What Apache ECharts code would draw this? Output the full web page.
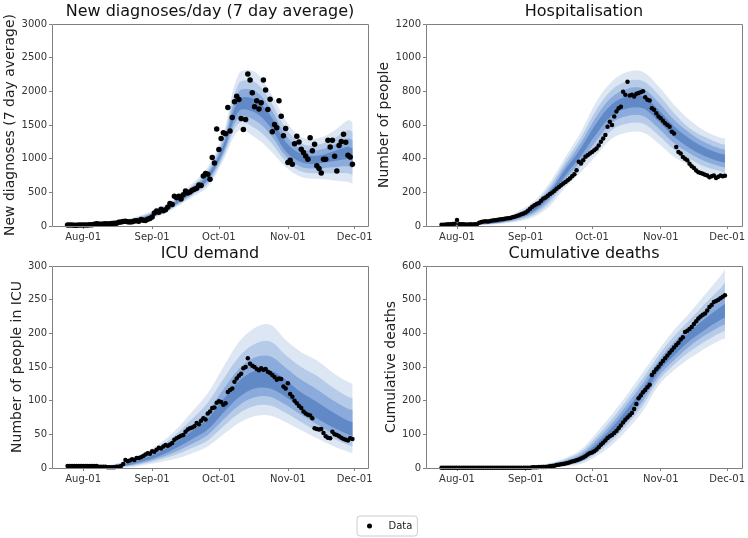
<!DOCTYPE html>
<html><head><meta charset="utf-8">
<script src="https://cdn.jsdelivr.net/npm/echarts@6/dist/echarts.min.js"></script>
<style>html,body{margin:0;padding:0;background:#fff}#c{width:748px;height:538px}</style>
</head><body><div id="c"></div>
<script>
// ---------- data ----------
const startDate = '2020-07-25';
const xMinDate = '2020-07-18';
const xMaxDate = '2020-12-07';
const xTickDates = ['2020-08-01', '2020-09-01', '2020-10-01', '2020-11-01', '2020-12-01'];
const xTickLabels = ['Aug-01', 'Sep-01', 'Oct-01', 'Nov-01', 'Dec-01'];
const panelTitles = ['New diagnoses/day (7 day average)', 'Hospitalisation', 'ICU demand', 'Cumulative deaths'];
const yAxisNames = ['New diagnoses (7 day average)', 'Number of people', 'Number of people in ICU', 'Cumulative deaths'];
const yMaxes = [3000, 1200, 300, 600];
const ySteps = [500, 200, 50, 100];

// daily observed data from 25 Jul to 30 Nov
const diagnoses = [15, 14, 14, 12, 12, 13, 14,
  14, 15, 16, 18, 20, 25, 35, 28, 26, 30,
  32, 30, 35, 38, 40, 42, 55, 60, 65, 70,
  62, 59, 62, 75, 78, 70, 95, 85, 80, 100, 110,
  134, 193, 223, 205, 250, 225, 240, 280, 333, 320,
  442, 420, 440, 400, 465, 520, 490, 505, 530, 545,
  560, 610, 600, 744, 778, 768, 694, 1017, 937, 1442,
  1136, 1300, 1385, 1370, 1760, 1410, 1612, 1844, 1928, 1880,
  1597, 1433, 1582, 2256, 2167, 1979, 1770, 1860, 1736, 1830,
  2167, 2018, 1731, 1884, 1398, 1508, 1458, 1860, 1631, 1339, 1448,
  942, 977, 917, 1220, 1334, 1249, 1140, 1091, 1041, 992,
  1309, 1116, 1215, 893, 853, 788, 992, 992, 1274, 1175,
  1274, 1036, 818, 1195, 1254, 1364, 1245, 1051, 1026, 917];
const hospital = [8, 8, 9, 10, 10, 12, 14,
  36, 12, 10, 10, 9, 9, 10, 9, 10, 11,
  20, 24, 26, 28, 27, 30, 32, 34, 36, 38,
  40, 42, 44, 46, 48, 52, 55, 60, 64, 70, 75,
  80, 90, 103, 115, 123, 130, 137, 150, 163, 170,
  179, 190, 199, 210, 222, 232, 242, 252, 262, 272,
  282, 295, 308, 331, 381, 371, 390, 411, 420, 431,
  440, 450, 460, 478, 500, 520, 540, 590, 620, 600,
  650, 680, 700, 708, 797, 780, 857, 775, 780, 770,
  785, 790, 795, 800, 765, 750, 745, 700, 690, 670, 650,
  640, 625, 610, 600, 590, 560, 550, 470, 440, 430,
  410, 400, 390, 370, 355, 345, 330, 320, 315, 310,
  305, 300, 290, 295, 300, 285, 292, 300, 295, 298];
const icu = [3, 3, 3, 3, 3, 3, 3,
  3, 3, 3, 3, 3, 3, 3, 2, 2, 2,
  2, 1, 1, 1, 1, 2, 2, 3, 6, 12,
  10, 11, 13, 12, 15, 15, 16, 18, 20, 22, 21,
  25, 24, 27, 30, 29, 32, 34, 33, 35, 37,
  42, 44, 46, 48, 49, 54, 57, 59, 60, 62,
  67, 65, 70, 74, 72, 81, 84, 89, 90, 97,
  99, 98, 94, 96, 113, 116, 118, 128, 133, 137,
  140, 148, 150, 163, 155, 152, 150, 147, 145, 148,
  146, 147, 143, 141, 138, 135, 131, 133, 132, 121, 118,
  126, 110, 106, 100, 96, 92, 89, 84, 81, 79,
  78, 74, 59, 58, 57, 58, 52, 47, 45, 44,
  54, 50, 49, 47, 45, 43, 42, 41, 44, 43];
const deaths = [1, 1, 1, 1, 1, 1, 1,
  1, 1, 1, 1, 1, 1, 1, 1, 1, 1,
  1, 1, 1, 1, 1, 1, 1, 1, 1, 1,
  1, 1, 1, 1, 1, 1, 1, 1, 1, 1, 1,
  1, 1, 1, 2, 2, 2, 3, 3, 3, 3,
  4, 5, 6, 7, 9, 10, 11, 12, 13, 15,
  17, 19, 21, 23, 25, 28, 31, 35, 40, 44,
  46, 50, 55, 62, 69, 75, 82, 89, 94, 98,
  104, 110, 118, 126, 135, 143, 150, 157, 163, 175,
  190, 207, 215, 225, 232, 240, 247, 276, 285, 293, 301,
  310, 318, 326, 334, 342, 350, 358, 365, 372, 382,
  388, 404, 408, 413, 419, 428, 436, 444, 450, 455,
  459, 468, 478, 484, 493, 496, 500, 504, 509, 513];

// model fan bands (outer -> inner), weekly
const bandDates = ['2020-07-25', '2020-08-01', '2020-08-08', '2020-08-15', '2020-08-22', '2020-08-29',
  '2020-09-05', '2020-09-12', '2020-09-19', '2020-09-26', '2020-10-03', '2020-10-10', '2020-10-17',
  '2020-10-24', '2020-10-31', '2020-11-07', '2020-11-14', '2020-11-21', '2020-11-28', '2020-11-30'];

const diagLo1 = [5, 8, 15, 25, 50, 85, 159, 282, 431, 580, 977, 1423, 1320, 1126, 877, 729, 700, 680, 654, 630];
const diagHi1 = [25, 30, 40, 60, 110, 184, 282, 431, 630, 877, 1377, 2266, 2290, 1993, 1572, 1323, 1298, 1398, 1572, 1550];
const diagLo2 = [8, 11, 18, 30, 58, 97, 176, 302, 458, 622, 1029, 1530, 1458, 1256, 965, 810, 784, 785, 782, 756];
const diagHi2 = [22, 26, 36, 54, 100, 166, 262, 407, 597, 829, 1309, 2120, 2137, 1863, 1451, 1226, 1202, 1287, 1424, 1400];
const diagLo3 = [10, 13, 21, 33, 64, 107, 190, 319, 480, 657, 1072, 1619, 1573, 1365, 1038, 878, 854, 872, 888, 861];
const diagHi3 = [19, 23, 32, 49, 91, 152, 245, 386, 569, 790, 1252, 1999, 2010, 1755, 1351, 1145, 1123, 1195, 1301, 1275];
const diagLo4 = [12, 15, 24, 37, 70, 117, 204, 336, 502, 692, 1115, 1709, 1688, 1473, 1111, 946, 924, 960, 995, 966];
const diagHi4 = [16, 20, 29, 44, 82, 137, 228, 366, 542, 751, 1195, 1877, 1882, 1647, 1250, 1065, 1044, 1104, 1178, 1150];

const hospLo1 = [0, 2, 4, 8, 15, 28, 55, 120, 232, 320, 420, 520, 555, 555, 490, 410, 360, 315, 290, 282];
const hospHi1 = [10, 12, 16, 26, 45, 90, 150, 260, 411, 560, 740, 860, 915, 915, 830, 720, 630, 565, 525, 520];
const hospLo2 = [2, 4, 6, 10, 19, 36, 69, 141, 258, 356, 468, 571, 609, 609, 539, 455, 399, 352, 325, 317];
const hospHi2 = [9, 11, 14, 23, 40, 80, 135, 239, 384, 524, 692, 809, 861, 861, 780, 671, 581, 528, 489, 484];
const hospLo3 = [3, 5, 7, 12, 22, 43, 80, 159, 280, 386, 508, 614, 654, 654, 581, 493, 432, 384, 353, 347];
const hospHi3 = [7, 9, 13, 20, 36, 71, 123, 221, 361, 494, 652, 766, 816, 816, 734, 631, 554, 496, 459, 454];
const hospLo4 = [4, 6, 9, 14, 25, 50, 91, 176, 302, 416, 548, 656, 699, 699, 622, 530, 464, 415, 382, 376];
const hospHi4 = [6, 8, 11, 18, 31, 62, 110, 204, 338, 464, 612, 724, 771, 771, 690, 592, 518, 465, 429, 424];

const icuLo1 = [0, 0, 0, 0, 1, 5, 9, 14, 22, 32, 50, 67, 77, 78, 68, 56, 44, 33, 24, 22];
const icuHi1 = [1, 2, 3, 6, 13, 24, 38, 58, 84, 111, 150, 187, 208, 213, 190, 172, 160, 142, 128, 125];
const icuLo2 = [0, 0, 0, 1, 3, 7, 13, 20, 30, 41, 62, 81, 92, 93, 82, 68, 55, 44, 34, 32];
const icuHi2 = [1, 1, 2, 5, 11, 21, 33, 51, 73, 97, 132, 165, 184, 188, 168, 150, 137, 120, 106, 104];
const icuLo3 = [0, 0, 1, 1, 4, 9, 16, 25, 36, 49, 72, 93, 105, 106, 94, 79, 65, 52, 42, 40];
const icuHi3 = [0, 1, 2, 4, 9, 18, 29, 45, 64, 84, 117, 147, 164, 166, 149, 131, 117, 101, 88, 86];
const icuLo4 = [0, 0, 1, 2, 5, 11, 19, 30, 43, 57, 82, 105, 118, 118, 106, 89, 74, 61, 50, 48];
const icuHi4 = [0, 0, 1, 3, 7, 15, 25, 39, 55, 73, 102, 129, 144, 145, 131, 112, 98, 83, 70, 68];

const deathLo1 = [0, 0, 0, 0, 0, 0, 1, 2, 5, 12, 35, 68, 115, 170, 245, 290, 325, 355, 380, 385];
const deathHi1 = [0, 0, 0, 1, 1, 3, 7, 15, 30, 55, 105, 160, 220, 285, 350, 410, 460, 515, 570, 590];
const deathLo2 = [0, 0, 0, 0, 0, 0, 2, 3, 8, 17, 44, 81, 130, 187, 260, 307, 345, 376, 402, 407];
const deathHi2 = [0, 0, 0, 1, 1, 2, 6, 13, 26, 48, 93, 145, 204, 267, 334, 391, 439, 488, 534, 551];
const deathLo3 = [0, 0, 0, 0, 0, 1, 2, 5, 11, 22, 52, 91, 142, 200, 272, 320, 361, 394, 421, 427];
const deathHi3 = [0, 0, 0, 0, 1, 2, 5, 11, 22, 41, 83, 132, 190, 252, 319, 374, 422, 465, 507, 520];
const deathLo4 = [0, 0, 0, 0, 1, 1, 3, 6, 13, 26, 59, 102, 155, 214, 285, 334, 377, 411, 440, 447];
const deathHi4 = [0, 0, 0, 0, 1, 1, 4, 9, 18, 35, 73, 120, 176, 237, 306, 358, 404, 443, 478, 488];

// ---------- build ----------
const FONT = 'DejaVu Sans';
const DAY = 86400000;
function ts(s) { const p = s.split('-').map(Number); return Date.UTC(p[0], p[1] - 1, p[2]); }
const t0 = ts(startDate);
const dailyX = diagnoses.map((_, i) => t0 + i * DAY);
const bandX = bandDates.map(ts);
const tickVals = xTickDates.map(ts);

const observed = [diagnoses, hospital, icu, deaths];
const bands = [
  [[diagLo1, diagHi1], [diagLo2, diagHi2], [diagLo3, diagHi3], [diagLo4, diagHi4]],
  [[hospLo1, hospHi1], [hospLo2, hospHi2], [hospLo3, hospHi3], [hospLo4, hospHi4]],
  [[icuLo1, icuHi1], [icuLo2, icuHi2], [icuLo3, icuHi3], [icuLo4, icuHi4]],
  [[deathLo1, deathHi1], [deathLo2, deathHi2], [deathLo3, deathHi3], [deathLo4, deathHi4]]
];
const bandColors = ['#dde7f4', '#b6cbe8', '#8aabdb', '#6089c6'];

const gridLefts = [52, 426, 52, 426];
const gridTops = [24, 24, 266, 266];
const GW = 316, GH = 202;
const nameGaps = [32, 30, 28, 28];
const dotSizes = [5.5, 4.5, 4.5, 4.5];
const AXC = '#7f7f7f';

function bandSeries(p, lo, hi, color, z) {
  return {
    type: 'custom', xAxisIndex: p, yAxisIndex: p, silent: true, z: z, clip: true,
    data: bandX.map((x, i) => [x, lo[i], hi[i]]),
    encode: { x: 0, y: [1, 2] },
    renderItem: function (params, api) {
      if (params.dataIndex !== 0) return null;
      const top = bandX.map((x, i) => api.coord([x, hi[i]]));
      const bot = bandX.map((x, i) => api.coord([x, lo[i]])).reverse();
      const n = top.length;
      // corners repeated so the end edges stay straight while the long edges are smoothed
      const pts = [top[0], top[0].slice()]
        .concat(top.slice(1, n - 1))
        .concat([top[n - 1], top[n - 1].slice(), bot[0], bot[0].slice()])
        .concat(bot.slice(1, n - 1))
        .concat([bot[n - 1], bot[n - 1].slice()]);
      return { type: 'polygon', shape: { points: pts, smooth: 0.35 }, style: { fill: color, stroke: null } };
    }
  };
}

const grid = [], xAxis = [], yAxis = [], series = [], graphic = [];
for (let p = 0; p < 4; p++) {
  grid.push({ left: gridLefts[p], top: gridTops[p], width: GW, height: GH, show: false });
  xAxis.push({ type: 'value', gridIndex: p, min: ts(xMinDate), max: ts(xMaxDate),
    axisLine: { show: false },
    axisTick: { show: true, customValues: tickVals, length: 3, lineStyle: { color: AXC } },
    axisLabel: { customValues: tickVals, fontSize: 10, color: '#333', fontFamily: FONT, margin: 6,
      formatter: v => { const k = tickVals.indexOf(v); return k >= 0 ? xTickLabels[k] : ''; } },
    splitLine: { show: false } });
  yAxis.push({ type: 'value', gridIndex: p, min: 0, max: yMaxes[p], interval: ySteps[p],
    name: yAxisNames[p], nameLocation: 'middle', nameGap: nameGaps[p],
    nameTextStyle: { fontSize: 14, color: '#222', fontFamily: FONT },
    axisLine: { show: false },
    axisTick: { show: true, length: 3, lineStyle: { color: AXC } },
    axisLabel: { fontSize: 10, color: '#333', fontFamily: FONT, margin: 5, formatter: v => String(v) },
    splitLine: { show: false } });
  bands[p].forEach((b, k) => series.push(bandSeries(p, b[0], b[1], bandColors[k], 1 + k)));
  series.push({ type: 'scatter', name: 'Data', xAxisIndex: p, yAxisIndex: p,
    data: observed[p].map((v, i) => [dailyX[i], v]), symbolSize: dotSizes[p],
    itemStyle: { color: '#000', opacity: 1 }, z: 20 });
  graphic.push({ type: 'text', x: gridLefts[p] + GW / 2, y: gridTops[p] - 12,
    style: { text: panelTitles[p], align: 'center', verticalAlign: 'middle',
      textAlign: 'center', textVerticalAlign: 'middle',
      font: '16px "DejaVu Sans"', fill: '#111' } });
  graphic.push({ type: 'rect', z: 100, silent: true,
    shape: { x: gridLefts[p] + 0.5, y: gridTops[p] + 0.5, width: GW, height: GH },
    style: { fill: null, stroke: AXC, lineWidth: 1 } });
}

const chart = echarts.init(document.getElementById('c'), null, { renderer: 'canvas' });
chart.setOption({
  animation: false,
  backgroundColor: '#fff',
  grid, xAxis, yAxis, series, graphic,
  legend: { data: ['Data'], left: 357, top: 516, icon: 'circle', itemWidth: 8, itemHeight: 5,
    padding: [5, 5, 5, 10], borderColor: '#cccccc', borderWidth: 1, borderRadius: 3,
    selectedMode: false,
    textStyle: { fontSize: 10, color: '#222', fontFamily: FONT, padding: [0, 0, 0, 10] } }
});
</script></body></html>
